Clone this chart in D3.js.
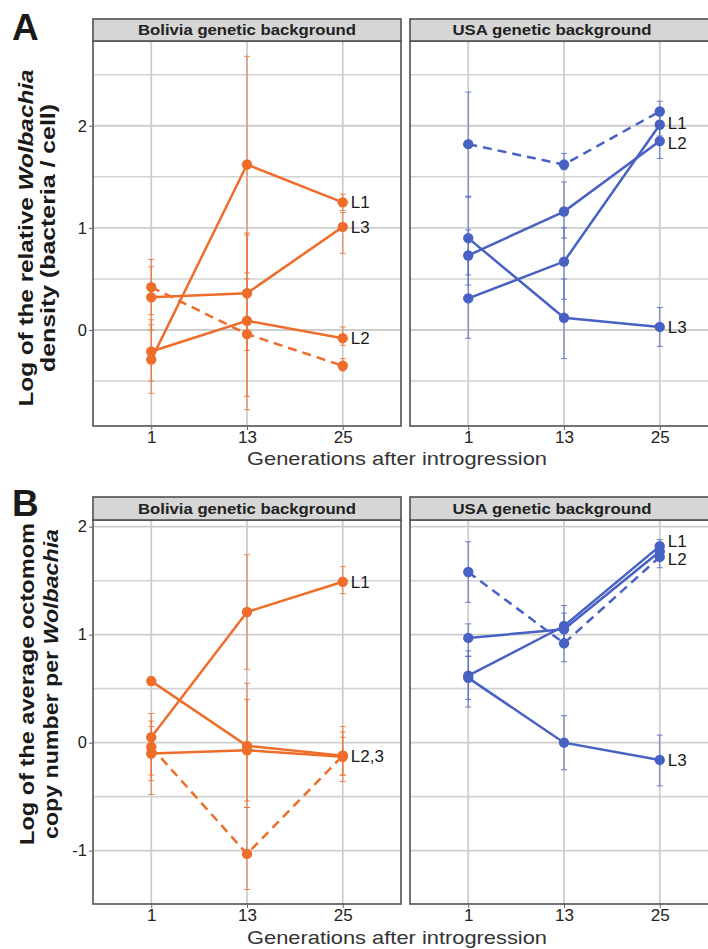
<!DOCTYPE html>
<html><head><meta charset="utf-8">
<script src="https://cdn.jsdelivr.net/npm/d3@7"></script>
<style>body{margin:0;background:#fff}svg{display:block;font-family:"Liberation Sans",Arial,sans-serif}</style>
</head><body><svg id="c" width="708" height="949"></svg>
<script>
// ---- data ----
const generations = [1, 13, 25];
const xTickLabels = ["1", "13", "25"];
const panelTitles = ["Bolivia genetic background", "USA genetic background"];
const yTicksA = [0, 1, 2];
const yTicksB = [-1, 0, 1, 2];

// A: log relative Wolbachia density, Bolivia background
const densBolL1 = [-0.29, 1.62, 1.25];
const densBolL1Err = [[-0.62, 0.05], [0.56, 2.68], [1.17, 1.33]];
const densBolL2 = [-0.21, 0.09, -0.08];
const densBolL2Err = [[-0.5, 0.1], [-0.78, 0.95], [-0.15, 0.03]];
const densBolL3 = [0.32, 0.36, 1.01];
const densBolL3Err = [[0.0, 0.62], [-0.2, 0.93], [0.75, 1.15]];
const densBolCtl = [0.42, -0.04, -0.35];
const densBolCtlErr = [[0.15, 0.69], [-0.65, 0.5], [-0.4, -0.28]];
// A: USA background
const densUsaL1 = [0.31, 0.67, 2.01];
const densUsaL1Err = [[-0.08, 0.7], [0.3, 1.0], [1.9, 2.1]];
const densUsaL2 = [0.73, 1.16, 1.85];
const densUsaL2Err = [[0.44, 0.98], [0.9, 1.45], [1.68, 2.0]];
const densUsaL3 = [0.9, 0.12, 0.03];
const densUsaL3Err = [[0.54, 1.31], [-0.28, 0.5], [-0.16, 0.22]];
const densUsaCtl = [1.82, 1.62, 2.14];
const densUsaCtlErr = [[1.3, 2.33], [1.57, 1.73], [2.05, 2.24]];

// B: log octomom copy number per Wolbachia, Bolivia background
const octoBolL1 = [0.05, 1.21, 1.49];
const octoBolL1Err = [[-0.48, 0.27], [0.68, 1.74], [1.38, 1.63]];
const octoBolL2 = [0.57, -0.03, -0.12];
const octoBolL2Err = [[0.53, 0.61], [-0.54, 0.4], [-0.36, 0.15]];
const octoBolL3 = [-0.1, -0.07, -0.13];
const octoBolL3Err = [[-0.35, 0.15], [-0.6, 0.55], [-0.3, 0.05]];
const octoBolCtl = [-0.04, -1.03, -0.12];
const octoBolCtlErr = [[-0.3, 0.2], [-1.36, -0.6], [-0.3, 0.1]];
// B: USA background
const octoUsaL1 = [0.62, 1.08, 1.82];
const octoUsaL1Err = [[0.33, 0.85], [0.9, 1.27], [1.75, 1.88]];
const octoUsaL2 = [0.97, 1.05, 1.77];
const octoUsaL2Err = [[0.8, 1.1], [0.9, 1.2], [1.7, 1.85]];
const octoUsaL3 = [0.6, 0.0, -0.16];
const octoUsaL3Err = [[0.4, 0.8], [-0.25, 0.25], [-0.4, 0.07]];
const octoUsaCtl = [1.58, 0.92, 1.72];
const octoUsaCtlErr = [[1.3, 1.86], [0.75, 1.05], [1.62, 1.8]];

// ---- build ----
const ORANGE = "#ef6d2b", BLUE = "#4862c4";
const svg = d3.select("#c");
svg.append("rect").attr("width", 708).attr("height", 949).attr("fill", "#fff");

function mk(name, vals, errs, dashed, label, nudge) {
  return {name, dashed, label, nudge: nudge || 0,
    pts: generations.map((g, i) => ({g, v: vals[i], lo: errs[i][0], hi: errs[i][1]}))};
}

const rows = [
  {letter: "A", stripTop: 19, top: 41, bottom: 426, domain: [-0.94, 2.83], ticks: yTicksA, minor: [-0.5, 0.5, 1.5, 2.5],
   ytitle: [["Log of the relative ", "Wolbachia"], ["density (bacteria / cell)", null]],
   yt: {center: 238, xs: [33, 55], lens: [337, 268]}, letterY: 40, xTitleY: 465,
   panels: [
     {series: [mk("L1", densBolL1, densBolL1Err, false, "L1"), mk("L2", densBolL2, densBolL2Err, false, "L2"),
               mk("L3", densBolL3, densBolL3Err, false, "L3"), mk("ctl", densBolCtl, densBolCtlErr, true, null)]},
     {series: [mk("L1", densUsaL1, densUsaL1Err, false, "L1", -1.5), mk("L2", densUsaL2, densUsaL2Err, false, "L2", 1.5),
               mk("L3", densUsaL3, densUsaL3Err, false, "L3"), mk("ctl", densUsaCtl, densUsaCtlErr, true, null)]}
   ]},
  {letter: "B", stripTop: 497, top: 520, bottom: 904, domain: [-1.494, 2.062], ticks: yTicksB, minor: [-0.5, 0.5, 1.5],
   ytitle: [["Log of the average octomom", null], ["copy number per ", "Wolbachia"]],
   yt: {center: 684, xs: [34, 58], lens: [322, 310]}, letterY: 516, xTitleY: 944,
   panels: [
     {series: [mk("L1", octoBolL1, octoBolL1Err, false, "L1"), mk("L2", octoBolL2, octoBolL2Err, false, "L2,3"),
               mk("L3", octoBolL3, octoBolL3Err, false, null), mk("ctl", octoBolCtl, octoBolCtlErr, true, null)]},
     {series: [mk("L1", octoUsaL1, octoUsaL1Err, false, "L1", -5), mk("L2", octoUsaL2, octoUsaL2Err, false, "L2", 7),
               mk("L3", octoUsaL3, octoUsaL3Err, false, "L3"), mk("ctl", octoUsaCtl, octoUsaCtlErr, true, null)]}
   ]}
];
const panelX = [[93, 401], [410, 718]];
const stripTextX = [247, 552];
const stripTextLen = [218, 199];
const xDomain = [-6.3, 32.3];

rows.forEach((row, ri) => {
  const y = d3.scaleLinear().domain(row.domain).range([row.bottom, row.top]);
  row.panels.forEach((p, pi) => {
    const [x0, x1] = panelX[pi];
    const x = d3.scaleLinear().domain(xDomain).range([x0, x1]);
    const color = pi === 0 ? ORANGE : BLUE;
    const g = svg.append("g");
    const cid = `clip${ri}${pi}`;
    svg.append("clipPath").attr("id", cid).append("rect")
      .attr("x", x0).attr("y", row.top).attr("width", x1 - x0).attr("height", row.bottom - row.top);
    // grid
    const grid = g.append("g").attr("clip-path", `url(#${cid})`);
    grid.selectAll("line.mn").data(row.minor).join("line")
      .attr("x1", x0).attr("x2", x1).attr("y1", d => y(d)).attr("y2", d => y(d))
      .attr("stroke", "#d2d2d2").attr("stroke-width", 1.6);
    grid.selectAll("line.mj").data(row.ticks).join("line")
      .attr("x1", x0).attr("x2", x1).attr("y1", d => y(d)).attr("y2", d => y(d))
      .attr("stroke", "#cdcdcd").attr("stroke-width", 1.8);
    grid.selectAll("line.vx").data(generations).join("line")
      .attr("x1", d => x(d)).attr("x2", d => x(d)).attr("y1", row.top).attr("y2", row.bottom)
      .attr("stroke", "#cdcdcd").attr("stroke-width", 1.8);
    const plot = g.append("g").attr("clip-path", `url(#${cid})`);
    // error bars
    p.series.forEach(s => {
      const eb = plot.append("g").attr("stroke", color).attr("stroke-width", 1).attr("opacity", 0.8);
      s.pts.forEach(pt => {
        eb.append("line").attr("x1", x(pt.g)).attr("x2", x(pt.g)).attr("y1", y(pt.lo)).attr("y2", y(pt.hi));
        [pt.lo, pt.hi].forEach(e => eb.append("line").attr("x1", x(pt.g) - 3).attr("x2", x(pt.g) + 3)
          .attr("y1", y(e)).attr("y2", y(e)));
      });
    });
    // lines
    const line = d3.line().x(d => x(d.g)).y(d => y(d.v));
    p.series.forEach(s => {
      plot.append("path").datum(s.pts).attr("d", line).attr("fill", "none")
        .attr("stroke", color).attr("stroke-width", 2.5)
        .attr("stroke-dasharray", s.dashed ? "9,6" : null);
    });
    p.series.forEach(s => {
      plot.selectAll(null).data(s.pts).join("circle")
        .attr("cx", d => x(d.g)).attr("cy", d => y(d.v)).attr("r", 5.2).attr("fill", color);
    });
    // line labels
    p.series.filter(s => s.label).forEach(s => {
      const last = s.pts[s.pts.length - 1];
      g.append("text").attr("x", x(last.g) + 8).attr("y", y(last.v) + s.nudge).attr("dy", "0.36em")
        .attr("font-size", 17).attr("fill", "#1a1a1a").text(s.label);
    });
    // border
    g.append("rect").attr("x", x0).attr("y", row.top).attr("width", x1 - x0).attr("height", row.bottom - row.top)
      .attr("fill", "none").attr("stroke", "#505050").attr("stroke-width", 1.6);
    // strip
    g.append("rect").attr("x", x0).attr("y", row.stripTop).attr("width", x1 - x0).attr("height", row.top - row.stripTop)
      .attr("fill", "#d6d6d6").attr("stroke", "#505050").attr("stroke-width", 1.6);
    g.append("text").attr("x", stripTextX[pi]).attr("y", (row.stripTop + row.top) / 2).attr("dy", "0.36em")
      .attr("text-anchor", "middle").attr("font-size", 15).attr("font-weight", "bold").attr("fill", "#222")
      .attr("textLength", stripTextLen[pi]).attr("lengthAdjust", "spacingAndGlyphs")
      .text(panelTitles[pi]);
    // x axis
    const xa = g.append("g").attr("transform", `translate(0,${row.bottom})`)
      .call(d3.axisBottom(x).tickValues(generations).tickFormat((d, i) => xTickLabels[i]).tickSize(4).tickPadding(1));
    xa.select(".domain").remove();
    xa.selectAll("line").attr("stroke", "#666");
    xa.selectAll("text").attr("font-size", 17).attr("fill", "#222").attr("font-family", "Liberation Sans, Arial, sans-serif");
    // y axis
    if (pi === 0) {
      const ya = g.append("g").attr("transform", `translate(${x0},0)`)
        .call(d3.axisLeft(y).tickValues(row.ticks).tickFormat(d3.format("d")).tickSize(4).tickPadding(2));
      ya.select(".domain").remove();
      ya.selectAll("line").attr("stroke", "#666");
      ya.selectAll("text").attr("font-size", 16.5).attr("fill", "#222").attr("font-family", "Liberation Sans, Arial, sans-serif")
        .text(d => d < 0 ? "-" + Math.abs(d) : String(d));
    }
  });
  // y title
  row.ytitle.forEach((parts, li) => {
    const t = svg.append("text").attr("transform", `translate(${row.yt.xs[li]},${row.yt.center}) rotate(-90)`)
      .attr("text-anchor", "middle").attr("font-size", 20.5).attr("font-weight", "bold").attr("fill", "#1a1a1a")
      .attr("textLength", row.yt.lens[li]).attr("lengthAdjust", "spacingAndGlyphs");
    t.append("tspan").text(parts[0]);
    if (parts[1]) t.append("tspan").attr("font-style", "italic").text(parts[1]);
  });
  // x title
  svg.append("text").attr("x", 397).attr("y", row.xTitleY).attr("text-anchor", "middle")
    .attr("font-size", 19).attr("fill", "#333").attr("textLength", 300).attr("lengthAdjust", "spacingAndGlyphs")
    .text("Generations after introgression");
  // panel letter
  svg.append("text").attr("x", 12).attr("y", row.letterY).attr("font-size", 37).attr("font-weight", "bold")
    .attr("fill", "#1a1a1a").text(row.letter);
});
</script></body></html>
